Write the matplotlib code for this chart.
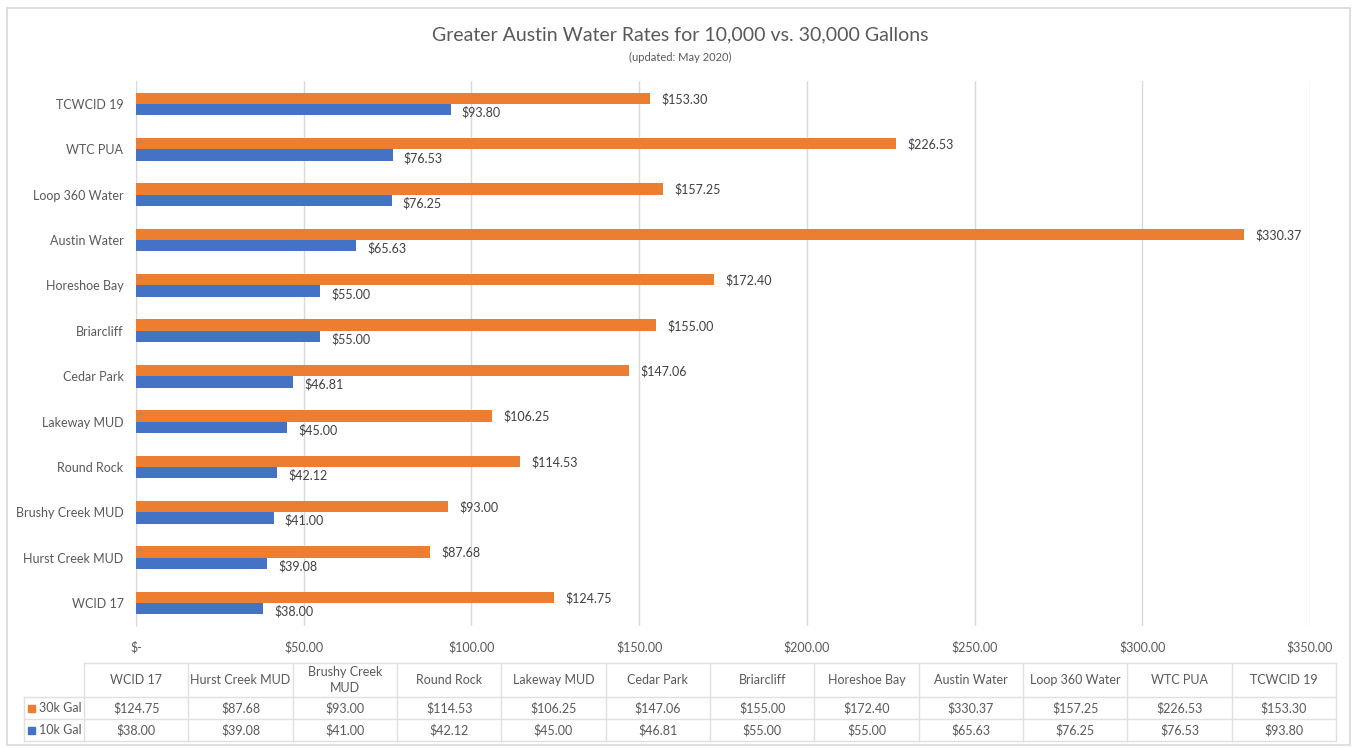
import matplotlib
matplotlib.use("Agg")
import matplotlib.pyplot as plt
from matplotlib.patches import Rectangle
from matplotlib.lines import Line2D

plt.rcParams['font.family'] = ['Lato', 'DejaVu Sans']

categories = ["WCID 17", "Hurst Creek MUD", "Brushy Creek MUD", "Round Rock",
              "Lakeway MUD", "Cedar Park", "Briarcliff", "Horeshoe Bay",
              "Austin Water", "Loop 360 Water", "WTC PUA", "TCWCID 19"]
table_headers = ["WCID 17", "Hurst Creek MUD", "Brushy Creek\nMUD", "Round Rock",
                 "Lakeway MUD", "Cedar Park", "Briarcliff", "Horeshoe Bay",
                 "Austin Water", "Loop 360 Water", "WTC PUA", "TCWCID 19"]
gal30 = [124.75, 87.68, 93.00, 114.53, 106.25, 147.06, 155.00, 172.40, 330.37, 157.25, 226.53, 153.30]
gal10 = [38.00, 39.08, 41.00, 42.12, 45.00, 46.81, 55.00, 55.00, 65.63, 76.25, 76.53, 93.80]
series_names = ["30k Gal", "10k Gal"]
x_ticks = [0, 50, 100, 150, 200, 250, 300, 350]
x_ticklabels = ["$-", "$50.00", "$100.00", "$150.00", "$200.00", "$250.00", "$300.00", "$350.00"]

ORANGE = "#ED7D31"
BLUE = "#4472C4"
TXT = "#595959"
GRID = "#D9D9D9"

W, H = 1357, 748
fig = plt.figure(figsize=(W / 100, H / 100), dpi=100)

# overlay for frame, title and table (pixel coordinates)
ov = fig.add_axes([0, 0, 1, 1])
ov.set_xlim(0, W)
ov.set_ylim(H, 0)
ov.axis("off")
ov.add_patch(Rectangle((7, 8), 1343, 737, fill=False, edgecolor=GRID, lw=1.2))
ov.text(680, 35, "Greater Austin Water Rates for 10,000 vs. 30,000 Gallons",
        ha="center", va="center", fontsize=14, color=TXT)
ov.text(680, 57, "(updated: May 2020)", ha="center", va="center", fontsize=8, color=TXT)

# main bar axes
left, right = 136, 1310
top, bottom = 81.3, 625.7
ax = fig.add_axes([left / W, 1 - bottom / H, (right - left) / W, (bottom - top) / H])
n = len(categories)
ys = list(range(n))
bh = 0.25
ax.barh([y + bh / 2 for y in ys], gal30, height=bh, color=ORANGE, zorder=3)
ax.barh([y - bh / 2 for y in ys], gal10, height=bh, color=BLUE, zorder=3)
for y, v in zip(ys, gal30):
    ax.annotate(f"${v:.2f}", (v, y + bh / 2), xytext=(8, -0.5), textcoords="offset points",
                ha="left", va="center", fontsize=9, color="#404040")
for y, v in zip(ys, gal10):
    ax.annotate(f"${v:.2f}", (v, y - bh / 2), xytext=(8, -2), textcoords="offset points",
                ha="left", va="center", fontsize=9, color="#404040")
ax.set_xlim(0, 350)
ax.set_ylim(-0.5, n - 0.5)
ax.set_yticks(ys)
ax.set_yticklabels(categories, fontsize=9, color=TXT)
ax.set_xticks(x_ticks)
ax.set_xticklabels(x_ticklabels, fontsize=9, color=TXT)
ax.tick_params(axis="both", length=0)
ax.tick_params(axis="x", pad=11)
ax.tick_params(axis="y", pad=9)
ax.grid(axis="x", color=GRID, lw=1, zorder=0)
for s in ["top", "right", "bottom"]:
    ax.spines[s].set_visible(False)
ax.spines["left"].set_color(GRID)
ax.set_facecolor("none")

# data table
tx0, tx1 = 84, 1336
cw = (tx1 - tx0) / n
ty = [663, 697, 719, 741]
lc = "#E0E0E0"
ov.add_line(Line2D([tx0, tx1], [ty[0], ty[0]], color=lc, lw=1))
for yy in ty[1:]:
    ov.add_line(Line2D([24, tx1], [yy, yy], color=lc, lw=1))
for i in range(n + 1):
    xx = tx0 + i * cw
    ov.add_line(Line2D([xx, xx], [ty[0], ty[3]], color=lc, lw=1))
ov.add_line(Line2D([24, 24], [ty[1], ty[3]], color=lc, lw=1))
for i, h in enumerate(table_headers):
    ov.text(tx0 + (i + 0.5) * cw, (ty[0] + ty[1]) / 2, h, ha="center", va="center",
            fontsize=9, color=TXT, linespacing=1.3)
rows = [gal30, gal10]
colors = [ORANGE, BLUE]
for r, (vals, name, c) in enumerate(zip(rows, series_names, colors)):
    yc = (ty[r + 1] + ty[r + 2]) / 2
    ov.add_patch(Rectangle((28, yc - 3.5), 7, 7, color=c))
    ov.text(39, yc, name, ha="left", va="center", fontsize=9, color=TXT)
    for i, v in enumerate(vals):
        ov.text(tx0 + (i + 0.5) * cw, yc, f"${v:.2f}", ha="center", va="center",
                fontsize=9, color=TXT)

fig.savefig("out.png", dpi=100, facecolor="white")
